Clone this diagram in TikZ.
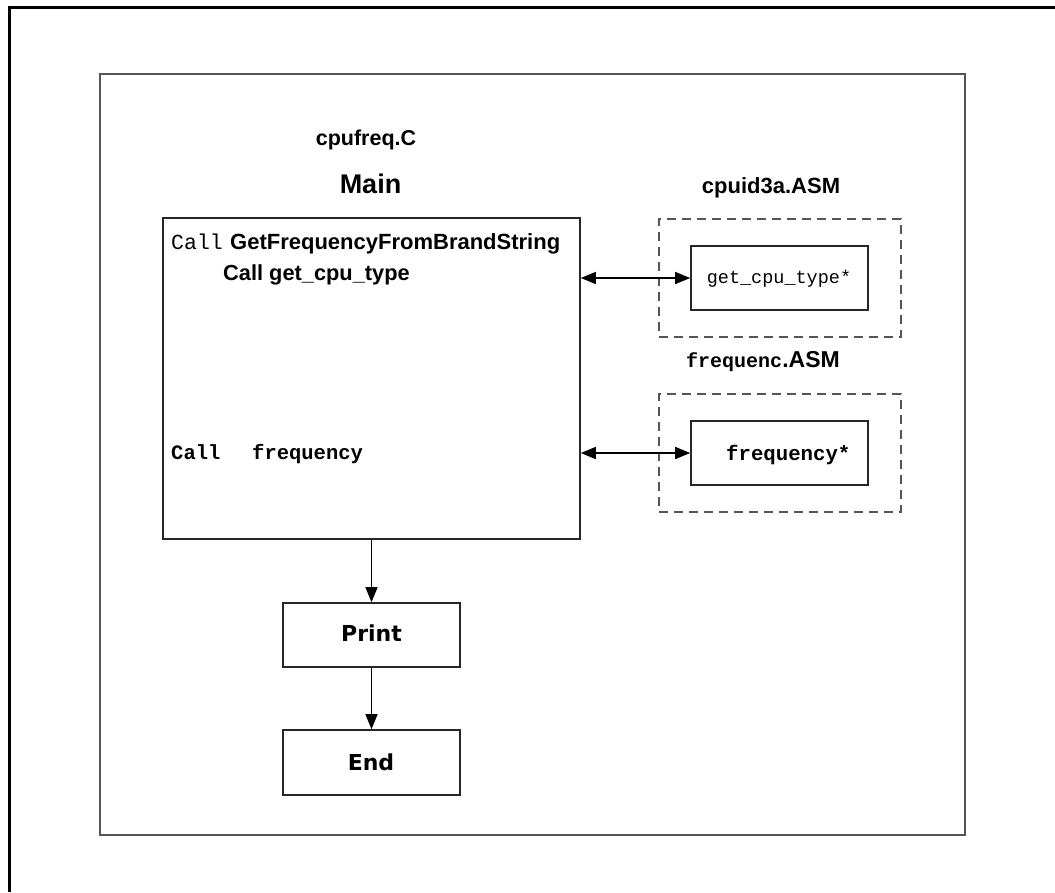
\documentclass[tikz,border=0pt]{standalone}
\usepackage{fontspec}
\setmainfont{Liberation Sans}
\newfontfamily\monof{Liberation Mono}
\newfontfamily\dvs{DejaVu Sans}
\usetikzlibrary{arrows.meta}
\definecolor{framegray}{HTML}{555555}
\tikzset{
  box/.style={draw=black!85, line width=1.6pt, rectangle, inner sep=0pt},
  dbox/.style={draw=framegray, line width=1.6pt, dash pattern=on 9pt off 6pt, rectangle, inner sep=0pt},
  conn/.style={line width=1.4pt, -{Triangle[length=15pt,width=12pt]}},
  dconn/.style={line width=1.4pt, {Triangle[length=15pt,width=12pt]}-{Triangle[length=15pt,width=12pt]}},
  lbl/.style={inner sep=0pt, font=\bfseries\fontsize{21.5}{24}\selectfont},
}
\begin{document}
\begin{tikzpicture}[x=1pt,y=-1pt]
\useasboundingbox (0,0) rectangle (1055,892);
% outer frame (top and left edges)
\coordinate (ftl) at (9,7);
\coordinate (ftr) at (1055,7);
\coordinate (fbl) at (9,892);
\draw[line width=3pt, black] (ftr) -- (ftl) -- (fbl);
% inner frame
\node[draw=framegray, line width=1.8pt, minimum width=865pt, minimum height=761pt, inner sep=0pt] (inner) at (532.5,454.5) {};
% titles
\node[lbl, anchor=base] (t1) at (366,145) {cpufreq.C};
\node[lbl, anchor=base, font=\bfseries\fontsize{27}{30}\selectfont] (t2) at (370.5,193) {Main};
\node[lbl, anchor=base, font=\bfseries\fontsize{22}{24}\selectfont] (t3) at (771,193) {cpuid3a.ASM};
\node[lbl, anchor=base, font=\bfseries\fontsize{23}{24}\selectfont] (t4) at (763,367) {{\monof\bfseries\fontsize{20}{22}\selectfont frequenc}.ASM};
% main box
\node[box, minimum width=417pt, minimum height=321pt] (main) at (371.5,378.5) {};
\node[inner sep=0pt, anchor=base west, font=\monof\fontsize{21.5}{22}\selectfont] (l1a) at (171,249) {Call};
\node[inner sep=0pt, anchor=base west, font=\bfseries\fontsize{22}{24}\selectfont] (l1b) at (230,249) {GetFrequencyFromBrandString};
\node[inner sep=0pt, anchor=base west, font=\bfseries\fontsize{21.8}{24}\selectfont] (l2) at (223,280) {Call get\_cpu\_type};
\node[inner sep=0pt, anchor=base west, font=\monof\bfseries\fontsize{20.5}{22}\selectfont] (l3a) at (171,459) {Call};
\node[inner sep=0pt, anchor=base west, font=\monof\bfseries\fontsize{20.5}{22}\selectfont] (l3b) at (252,459) {frequency};
% dashed modules
\node[dbox, minimum width=242pt, minimum height=118pt] (d1) at (780,278) {};
\node[box, minimum width=177pt, minimum height=64pt] (gct) at (779.5,278) {};
\node[inner sep=0pt, anchor=base, font=\monof\fontsize{18.5}{20}\selectfont] (gctl) at (779,283) {get\_cpu\_type*};
\node[dbox, minimum width=242pt, minimum height=118pt] (d2) at (780,453) {};
\node[box, minimum width=177pt, minimum height=64pt] (frq) at (779.5,453) {};
\node[inner sep=0pt, anchor=base west, font=\monof\bfseries\fontsize{20.7}{22}\selectfont] (frql) at (726,460) {frequency*};
% print / end
\node[box, minimum width=177pt, minimum height=64pt] (print) at (371.5,635) {};
\node[inner sep=0pt, anchor=base, font=\dvs\bfseries\fontsize{22}{24}\selectfont] (printl) at (371.5,641) {Print};
\node[box, minimum width=177pt, minimum height=65pt] (end) at (371.5,762.5) {};
\node[inner sep=0pt, anchor=base, font=\dvs\bfseries\fontsize{22}{24}\selectfont] (endl) at (371,770) {End};
% connectors
\draw[dconn] (gct.west -| main.east) -- (gct.west);
\draw[dconn] (frq.west -| main.east) -- (frq.west);
\draw[conn] (print.north |- main.south) -- (print.north);
\draw[conn] (print.south) -- (end.north);
\end{tikzpicture}
\end{document}
